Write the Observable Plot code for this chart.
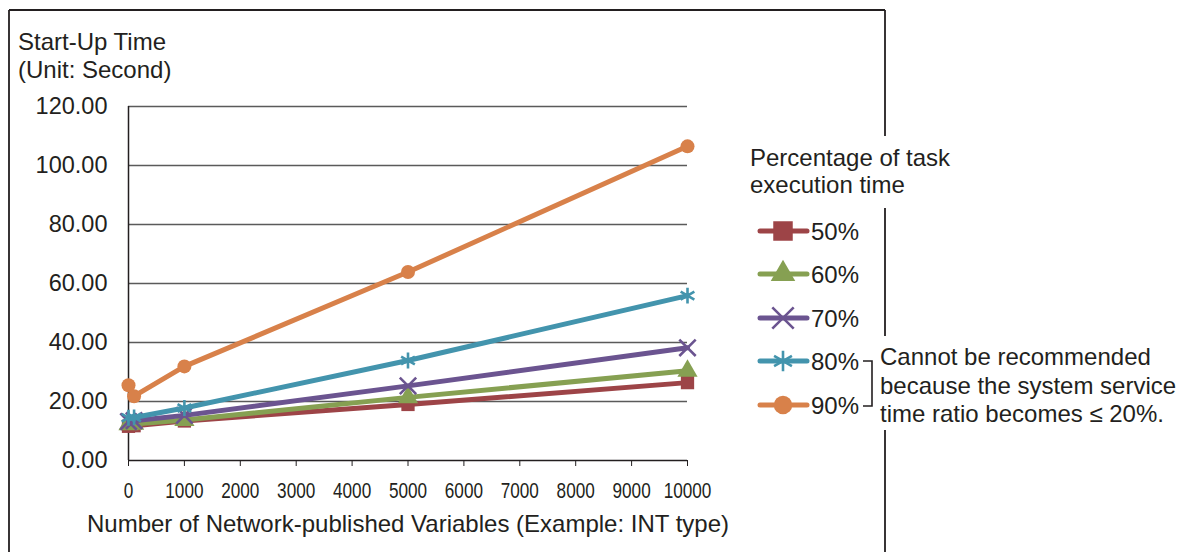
<!DOCTYPE html>
<html>
<head>
<meta charset="utf-8">
<script src="https://cdn.jsdelivr.net/npm/d3@7"></script>
<script src="https://cdn.jsdelivr.net/npm/@observablehq/plot@0.6"></script>
<style>
  html, body { margin: 0; padding: 0; background: #fff; }
  #chart svg { display: block; }
</style>
</head>
<body>
<div id="chart"></div>
<script>
// ---- data ----
const xValues = [0, 100, 1000, 5000, 10000];
const seriesNames = ["50%", "60%", "70%", "80%", "90%"];
const values50 = [11.6, 11.8, 13.4, 19.0, 26.4];
const values60 = [12.2, 12.4, 13.7, 21.4, 30.4];
const values70 = [13.2, 13.5, 15.3, 25.3, 38.2];
const values80 = [14.5, 14.6, 17.8, 33.9, 55.9];
const values90 = [25.5, 21.8, 31.9, 63.9, 106.5];
const yTicks = [0, 20, 40, 60, 80, 100, 120];
const xTicks = [0, 1000, 2000, 3000, 4000, 5000, 6000, 7000, 8000, 9000, 10000];
const seriesColors = ["#9d4447", "#86a052", "#6b5490", "#4394ad", "#d8814a"];
const seriesSymbols = ["square", "triangle", "times", "asterisk", "circle"];
const yTitle = ["Start-Up Time", "(Unit: Second)"];
const xTitle = "Number of Network-published Variables (Example: INT type)";
const legendTitle = ["Percentage of task", "execution time"];
const noteLines = ["Cannot be recommended", "because the system service", "time ratio becomes \u2264 20%."];

const allValues = [values50, values60, values70, values80, values90];
const rows = [];
seriesNames.forEach((name, i) => {
  xValues.forEach((x, j) => rows.push({series: name, idx: i, x, y: allValues[i][j]}));
});

const W = 1188, H = 552;
const font = "'Liberation Sans', Arial, sans-serif";
const ink = "#231f20";

const marks = [
  Plot.gridY(yTicks.filter(d => d > 0), {stroke: "#5a5a5a", strokeOpacity: 1, strokeWidth: 1.3}),
  Plot.ruleX([0], {stroke: ink, strokeWidth: 1.5}),
  Plot.ruleY([0], {stroke: ink, strokeWidth: 1.5}),
  Plot.axisY({ticks: yTicks, tickSize: 0, tickPadding: 21, tickFormat: d => d.toFixed(2),
    fontSize: 23.5, fontFamily: font, fill: ink, label: null}),
  Plot.axisX({ticks: xTicks, tickSize: 6, tickPadding: 16, tickFormat: d => String(d),
    fontSize: 22, fontFamily: font, fill: ink, stroke: ink, label: null})
];
seriesNames.forEach((name, i) => {
  const d = rows.filter(r => r.idx === i);
  marks.push(Plot.line(d, {x: "x", y: "y", stroke: seriesColors[i], strokeWidth: 5}));
  const strokeSym = seriesSymbols[i] === "times" || seriesSymbols[i] === "asterisk";
  marks.push(Plot.dot(d, strokeSym
    ? {x: "x", y: "y", symbol: () => seriesSymbols[i], r: 7.5, stroke: seriesColors[i], strokeWidth: 2.6, fill: "none"}
    : {x: "x", y: "y", symbol: () => seriesSymbols[i], r: seriesSymbols[i] === "circle" ? 7 : 7.5, fill: seriesColors[i], stroke: "none"}));
});

const chart = Plot.plot({
  width: W, height: H,
  marginLeft: 128, marginRight: W - 687, marginTop: 106, marginBottom: H - 460,
  x: {domain: [0, 10000], type: "linear"},
  y: {domain: [0, 120]},
  style: {fontFamily: font, background: "#fff", overflow: "visible"},
  marks
});
document.getElementById("chart").appendChild(chart);

// condensed look for the x tick labels (narrow font in the original)
d3.select(chart).selectAll("g[aria-label='x-axis tick label'] text").each(function() {
  const t = this.getAttribute("transform") || "";
  this.setAttribute("transform", t + " scale(0.78,1)");
});

// ---- decorations: border, titles, legend ----
const svg = d3.select(chart);
const g = svg.append("g");
const border = [[9, 552, 9, 10], [9, 10, 885, 10], [885, 10, 885, 136], [885, 208, 885, 336], [885, 430, 885, 552]];
border.forEach(([x1, y1, x2, y2]) => g.append("line").attr("x1", x1).attr("y1", y1).attr("x2", x2).attr("y2", y2)
  .attr("stroke", ink).attr("stroke-width", 1.8));

function txt(str, x, y, opts = {}) {
  g.append("text").attr("x", x).attr("y", y).attr("dy", "0.35em")
    .attr("font-family", opts.family || font).attr("font-size", opts.size || 24)
    .attr("fill", ink).attr("text-anchor", opts.anchor || "start").text(str);
}
txt(yTitle[0], 18, 42);
txt(yTitle[1], 18, 70);
txt(xTitle, 408, 524, {anchor: "middle"});
txt(legendTitle[0], 750, 158);
txt(legendTitle[1], 750, 185);

const legendY = [231, 274, 318, 361, 405];
seriesNames.forEach((name, i) => {
  const y = legendY[i];
  g.append("line").attr("x1", 760).attr("x2", 807).attr("y1", y).attr("y2", y)
    .attr("stroke", seriesColors[i]).attr("stroke-width", 5).attr("stroke-linecap", "round");
  const sym = seriesSymbols[i];
  const d3sym = {square: d3.symbolSquare, triangle: d3.symbolTriangle, times: d3.symbolTimes,
    asterisk: d3.symbolAsterisk, circle: d3.symbolCircle}[sym];
  const isStroke = sym === "times" || sym === "asterisk";
  const size = sym === "square" ? 380 : sym === "triangle" ? 260 : sym === "circle" ? 270 : 300;
  g.append("path").attr("transform", `translate(783,${y})`)
    .attr("d", d3.symbol(d3sym, size)())
    .attr("fill", isStroke ? "none" : seriesColors[i])
    .attr("stroke", isStroke ? seriesColors[i] : "none")
    .attr("stroke-width", 2.6);
  txt(name, 811, y + 1);
});

// bracket
g.append("path").attr("d", "M863,361 H872 V406 H863").attr("fill", "none").attr("stroke", ink).attr("stroke-width", 1.6);
noteLines.forEach((s, i) => txt(s, 880, 357 + i * 28.5));
</script>
</body>
</html>
